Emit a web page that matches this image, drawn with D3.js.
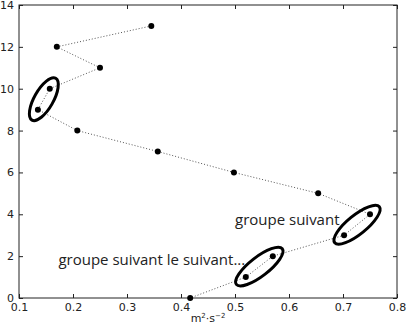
<!DOCTYPE html>
<html><head><meta charset="utf-8">
<script src="https://cdn.jsdelivr.net/npm/d3@7"></script>
<style>body{margin:0;background:#fff}svg{display:block}</style>
</head><body>
<svg id="c" width="408" height="324"></svg>
<script>
const xs = [0.345, 0.17, 0.25, 0.157, 0.135, 0.208, 0.357, 0.498, 0.654, 0.75, 0.702, 0.57, 0.52, 0.417];
const ys = [13, 12, 11, 10, 9, 8, 7, 6, 5, 4, 3, 2, 1, 0];
const xTicks = [0.1, 0.2, 0.3, 0.4, 0.5, 0.6, 0.7, 0.8];
const yTicks = [0, 2, 4, 6, 8, 10, 12, 14];
const groups = [[3, 4], [9, 10], [11, 12]];
const labels = [
  {text: "groupe suivant", x: 0.5, y: 3.48},
  {text: "groupe suivant le suivant...", x: 0.173, y: 1.58}
];

const svg = d3.select("#c");
const L = 19, R = 397, T = 5, B = 298;
const x = d3.scaleLinear().domain([0.1, 0.8]).range([L, R]);
const y = d3.scaleLinear().domain([0, 14]).range([B, T]);
const tickFont = "DejaVu Sans, sans-serif";

// frame
svg.append("rect").attr("x", L).attr("y", T).attr("width", R - L).attr("height", B - T)
  .attr("fill", "none").attr("stroke", "#222").attr("stroke-width", 1);

// axes with inward ticks
const ax = (g, a) => { g.call(a); g.select(".domain").remove();
  g.selectAll("text").attr("font-family", tickFont).attr("font-size", 11).attr("fill", "#222");
  g.selectAll("line").attr("stroke", "#222"); };
svg.append("g").attr("transform", `translate(0,${B})`)
  .call(g => ax(g, d3.axisBottom(x).tickValues(xTicks).tickFormat(d3.format(".1f")).tickSizeInner(-4).tickPadding(5)));
svg.append("g").attr("transform", `translate(0,${T})`)
  .call(g => ax(g, d3.axisTop(x).tickValues(xTicks).tickFormat("").tickSizeInner(-4)));
svg.append("g").attr("transform", `translate(${L},0)`)
  .call(g => ax(g, d3.axisLeft(y).tickValues(yTicks).tickFormat(d3.format("d")).tickSizeInner(-4).tickPadding(5)));
svg.append("g").attr("transform", `translate(${R},0)`)
  .call(g => ax(g, d3.axisRight(y).tickValues(yTicks).tickFormat("").tickSizeInner(-4)));

// dotted line
const pts = xs.map((v, i) => [v, ys[i]]);
svg.append("path").datum(pts)
  .attr("d", d3.line().x(d => x(d[0])).y(d => y(d[1])))
  .attr("fill", "none").attr("stroke", "#555").attr("stroke-width", 1).attr("stroke-dasharray", "1,2");

// points
svg.selectAll("circle.pt").data(pts).join("circle").attr("class", "pt")
  .attr("cx", d => x(d[0])).attr("cy", d => y(d[1])).attr("r", 3).attr("fill", "#000");

// ellipses
groups.forEach(([a, b]) => {
  const x1 = x(xs[a]), y1 = y(ys[a]), x2 = x(xs[b]), y2 = y(ys[b]);
  const cx = (x1 + x2) / 2, cy = (y1 + y2) / 2;
  const len = Math.hypot(x2 - x1, y2 - y1);
  const ang = Math.atan2(y2 - y1, x2 - x1) * 180 / Math.PI;
  svg.append("ellipse").attr("cx", cx).attr("cy", cy)
    .attr("rx", len / 2 + 12).attr("ry", 9.5)
    .attr("transform", `rotate(${ang},${cx},${cy})`)
    .attr("fill", "none").attr("stroke", "#000").attr("stroke-width", 3);
});

// labels
labels.forEach(l => svg.append("text").attr("x", x(l.x)).attr("y", y(l.y))
  .attr("font-family", "Open Sans, sans-serif").attr("font-size", 15).attr("fill", "#222").text(l.text));

// x label
svg.append("text").attr("x", (L + R) / 2).attr("y", 322).attr("text-anchor", "middle")
  .attr("font-family", tickFont).attr("font-size", 11).attr("fill", "#222")
  .html('m<tspan dy="-4" font-size="7">2</tspan><tspan dy="4">·s</tspan><tspan dy="-4" font-size="7">−2</tspan>');
</script>
</body></html>
